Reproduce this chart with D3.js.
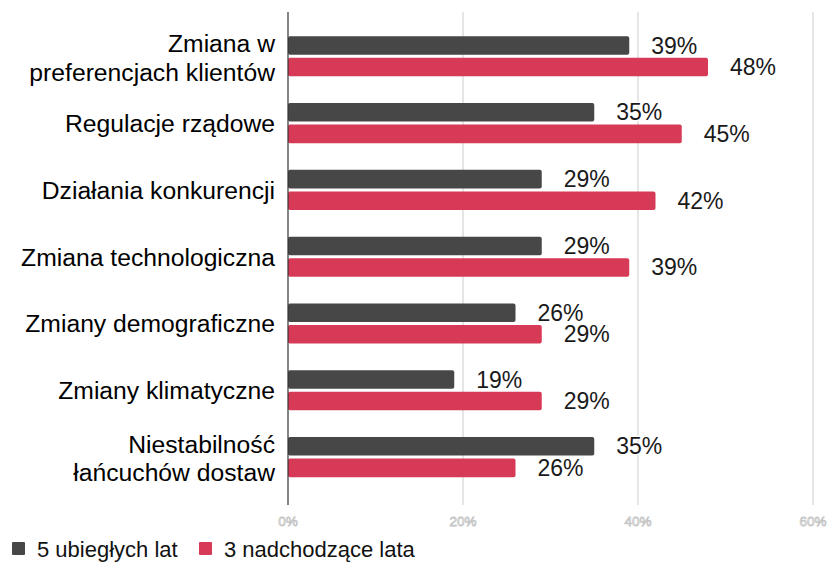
<!DOCTYPE html>
<html>
<head>
<meta charset="utf-8">
<script src="https://cdn.jsdelivr.net/npm/d3@7"></script>
<style>
  html, body { margin: 0; padding: 0; background: #fff; }
  text { font-family: "Liberation Sans", Arial, sans-serif; }
</style>
</head>
<body>
<div id="chart"></div>
<script>
// categories (multi-line labels split with \n)
var categories = [
  "Zmiana w\npreferencjach klientów",
  "Regulacje rządowe",
  "Działania konkurencji",
  "Zmiana technologiczna",
  "Zmiany demograficzne",
  "Zmiany klimatyczne",
  "Niestabilność\nłańcuchów dostaw"
];
var seriesNames = ["5 ubiegłych lat", "3 nadchodzące lata"];
var past5 = [39, 35, 29, 29, 26, 19, 35];
var next3 = [48, 45, 42, 39, 29, 29, 26];
var tickValues = [0, 20, 40, 60];
var colors = ["#474747", "#d73a56"];

var W = 831, H = 562;
var svg = d3.select("#chart").append("svg")
  .attr("width", W)
  .attr("height", H);

var x = d3.scaleLinear().domain([0, 60]).range([288, 813]);
var y = d3.scaleBand().domain(categories).range([22.9, 490.5])
  .paddingInner(0.4).paddingOuter(0.2);
var ySub = d3.scaleBand().domain([0, 1]).range([0, y.bandwidth()]).paddingInner(0.14);

var rows = categories.map(function(c, i) {
  return { cat: c, vals: [past5[i], next3[i]] };
});

// gridlines
svg.append("g").selectAll("line")
  .data(tickValues.filter(function(d) { return d > 0; }))
  .join("line")
  .attr("x1", function(d) { return x(d); })
  .attr("x2", function(d) { return x(d); })
  .attr("y1", 12).attr("y2", 505)
  .attr("stroke", "#cccccc").attr("stroke-width", 1);

// tick labels (white with grey outline)
svg.append("g").selectAll("text")
  .data(tickValues)
  .join("text")
  .attr("x", function(d) { return x(d); })
  .attr("y", 526)
  .attr("text-anchor", "middle")
  .attr("font-size", 13.5)
  .attr("fill", "#ffffff")
  .attr("stroke", "#c4c4c4")
  .attr("stroke-width", 0.8)
  .text(function(d) { return d + "%"; });

// bars
var groups = svg.append("g").selectAll("g")
  .data(rows)
  .join("g")
  .attr("transform", function(d) { return "translate(0," + y(d.cat) + ")"; });

groups.selectAll("rect")
  .data(function(d) { return d.vals; })
  .join("rect")
  .attr("x", x(0))
  .attr("y", function(d, i) { return ySub(i); })
  .attr("width", function(d) { return x(d) - x(0); })
  .attr("height", ySub.bandwidth())
  .attr("rx", 2)
  .attr("fill", function(d, i) { return colors[i]; });

// value labels
groups.selectAll("text.val")
  .data(function(d) { return d.vals; })
  .join("text")
  .attr("class", "val")
  .attr("x", function(d) { return x(d) + 22; })
  .attr("y", function(d, i) { return ySub(i) + ySub.bandwidth() / 2 + 8; })
  .attr("font-size", 23)
  .attr("fill", "#1a1a1a")
  .attr("stroke", "#fff")
  .attr("stroke-width", 3)
  .attr("paint-order", "stroke")
  .text(function(d) { return d + "%"; });

// category labels
groups.append("text")
  .attr("text-anchor", "end")
  .attr("font-size", 24.7)
  .attr("fill", "#000")
  .each(function(d) {
    var lines = d.cat.split("\n");
    var c = y.bandwidth() / 2 + 9;
    var t = d3.select(this);
    lines.forEach(function(l, k) {
      t.append("tspan")
        .attr("x", 275)
        .attr("y", c + (k - (lines.length - 1) / 2) * 28.5 + (lines.length > 1 ? 1 : 0))
        .text(l);
    });
  });

// zero axis line
svg.append("line")
  .attr("x1", x(0)).attr("x2", x(0))
  .attr("y1", 12).attr("y2", 505)
  .attr("stroke", "#333").attr("stroke-width", 1.2);

// legend
var legendX = [12, 199];
var leg = svg.append("g").selectAll("g")
  .data(seriesNames)
  .join("g")
  .attr("transform", function(d, i) { return "translate(" + legendX[i] + ",542)"; });
leg.append("rect")
  .attr("width", 13).attr("height", 13).attr("rx", 1)
  .attr("fill", function(d, i) { return colors[i]; });
leg.append("text")
  .attr("x", 25).attr("y", 15)
  .attr("font-size", 22)
  .attr("fill", "#111")
  .text(function(d) { return d; });
</script>
</body>
</html>
